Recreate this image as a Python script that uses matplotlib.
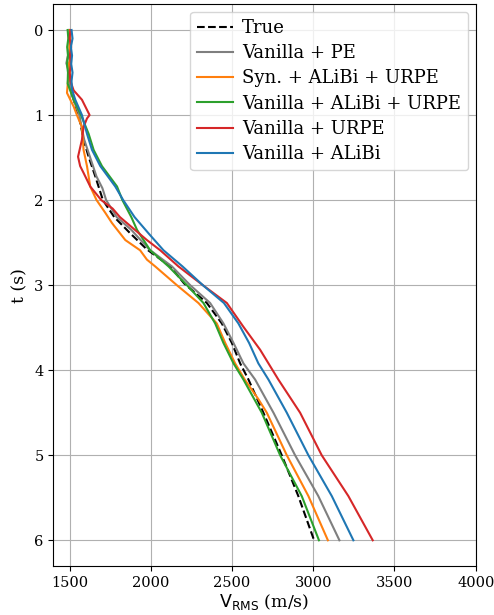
import matplotlib

matplotlib.use("Agg")
import matplotlib.pyplot as plt


# RMS velocity profiles, t in seconds, V in m/s
t_true = [0.0, 0.1, 0.2, 0.3, 0.4, 0.5, 0.6, 0.71, 0.85, 1.0, 1.15, 1.29, 1.49, 1.72, 2.0,
          2.2, 2.39, 2.58, 2.78, 2.98, 3.21, 3.45, 3.68, 3.92, 4.11, 4.5, 5.0, 5.48, 6.0]
v_true = [1505, 1500, 1508, 1498, 1504, 1500, 1506, 1509, 1530, 1555, 1572, 1586, 1617, 1658, 1705,
          1775, 1873, 1976, 2120, 2205, 2345, 2437, 2499, 2550, 2601, 2693, 2806, 2908, 3005]

t_pe = [0.0, 0.1, 0.2, 0.3, 0.39, 0.5, 0.6, 0.7, 0.85, 1.0, 1.15, 1.29, 1.49, 1.72, 1.86, 2.0,
        2.2, 2.35, 2.58, 2.78, 3.0, 3.21, 3.45, 3.68, 3.92, 4.11, 4.5, 5.0, 5.48, 6.0]
v_pe = [1500, 1495, 1502, 1490, 1480, 1497, 1500, 1505, 1530, 1560, 1575, 1590, 1625, 1665, 1702, 1725,
        1790, 1880, 1990, 2130, 2242, 2365, 2447, 2509, 2570, 2642, 2755, 2888, 3031, 3161]

t_syn = [0.0, 0.1, 0.2, 0.3, 0.4, 0.5, 0.6, 0.74, 0.9, 1.0, 1.14, 1.41, 1.6, 1.84, 2.0, 2.15,
         2.27, 2.47, 2.59, 2.7, 2.78, 3.0, 3.21, 3.45, 3.68, 3.92, 4.11, 4.34, 4.5, 5.0, 5.48, 6.0]
v_syn = [1500, 1505, 1498, 1508, 1495, 1502, 1490, 1484, 1525, 1545, 1576, 1586, 1607, 1627, 1666, 1720,
         1761, 1843, 1934, 1976, 2027, 2160, 2293, 2406, 2458, 2519, 2578, 2662, 2714, 2837, 2970, 3090]

t_alibi_urpe = [0.0, 0.1, 0.2, 0.3, 0.4, 0.5, 0.63, 0.82, 1.0, 1.22, 1.41, 1.6, 1.84, 2.0, 2.2,
                2.35, 2.59, 2.78, 3.0, 3.21, 3.45, 3.68, 3.92, 4.11, 4.5, 5.0, 5.48, 6.0]
v_alibi_urpe = [1488, 1492, 1485, 1490, 1484, 1490, 1488, 1525, 1570, 1617, 1648, 1699, 1792, 1825, 1880,
                1915, 1996, 2109, 2222, 2324, 2396, 2447, 2509, 2570, 2683, 2796, 2929, 3035]

t_urpe = [0.0, 0.1, 0.2, 0.3, 0.4, 0.5, 0.6, 0.71, 0.82, 1.0, 1.04, 1.14, 1.29, 1.49, 1.6, 1.68,
          1.84, 2.0, 2.1, 2.2, 2.47, 2.59, 2.78, 3.0, 3.21, 3.49, 3.76, 4.11, 4.5, 5.0, 5.48, 6.0]
v_urpe = [1505, 1500, 1510, 1502, 1508, 1500, 1505, 1525, 1576, 1623, 1607, 1586, 1576, 1552, 1565, 1586,
          1627, 1695, 1765, 1810, 1976, 2058, 2170, 2320, 2468, 2570, 2673, 2785, 2919, 3052, 3216, 3366]

t_alibi = [0.0, 0.1, 0.2, 0.3, 0.4, 0.5, 0.6, 0.7, 0.82, 1.0, 1.22, 1.41, 1.6, 1.84, 2.0, 2.2,
           2.4, 2.59, 2.78, 3.0, 3.21, 3.45, 3.68, 3.92, 4.11, 4.5, 5.0, 5.48, 6.0]
v_alibi = [1512, 1518, 1508, 1515, 1510, 1518, 1512, 1515, 1535, 1576, 1607, 1638, 1689, 1781, 1830, 1900,
           1990, 2078, 2195, 2320, 2450, 2539, 2605, 2662, 2724, 2837, 2970, 3114, 3247]

x_ticks = [1500, 2000, 2500, 3000, 3500, 4000]
y_ticks = [0, 1, 2, 3, 4, 5, 6]

plt.rcParams["font.family"] = "DejaVu Serif"
plt.rcParams["mathtext.fontset"] = "dejavusans"

fig = plt.figure(figsize=(4.94, 6.15), dpi=100)
ax = fig.add_axes([0.108, 0.080, 0.855, 0.9127])

ax.plot(v_true, t_true, "k--", linewidth=1.5, label="True")
ax.plot(v_pe, t_pe, color="tab:gray", linewidth=1.5, label="Vanilla + PE")
ax.plot(v_syn, t_syn, color="tab:orange", linewidth=1.5, label="Syn. + ALiBi + URPE")
ax.plot(v_alibi_urpe, t_alibi_urpe, color="tab:green", linewidth=1.5, label="Vanilla + ALiBi + URPE")
ax.plot(v_urpe, t_urpe, color="tab:red", linewidth=1.5, label="Vanilla + URPE")
ax.plot(v_alibi, t_alibi, color="tab:blue", linewidth=1.5, label="Vanilla + ALiBi")

ax.set_xlim(1400, 4000)
ax.set_ylim(6.3, -0.3)
ax.set_xticks(x_ticks)
ax.set_yticks(y_ticks)
ax.tick_params(labelsize=10.5)
ax.grid(True)
ax.set_xlabel(r"$\mathrm{V_{RMS}}$ (m/s)", fontsize=12.5, labelpad=2)
ax.set_ylabel("t (s)", fontsize=12.5, labelpad=4)
ax.legend(loc="upper right", fontsize=13, labelspacing=0.4, handletextpad=0.5,
          borderaxespad=0.4)

fig.savefig("out.png", dpi=100)
